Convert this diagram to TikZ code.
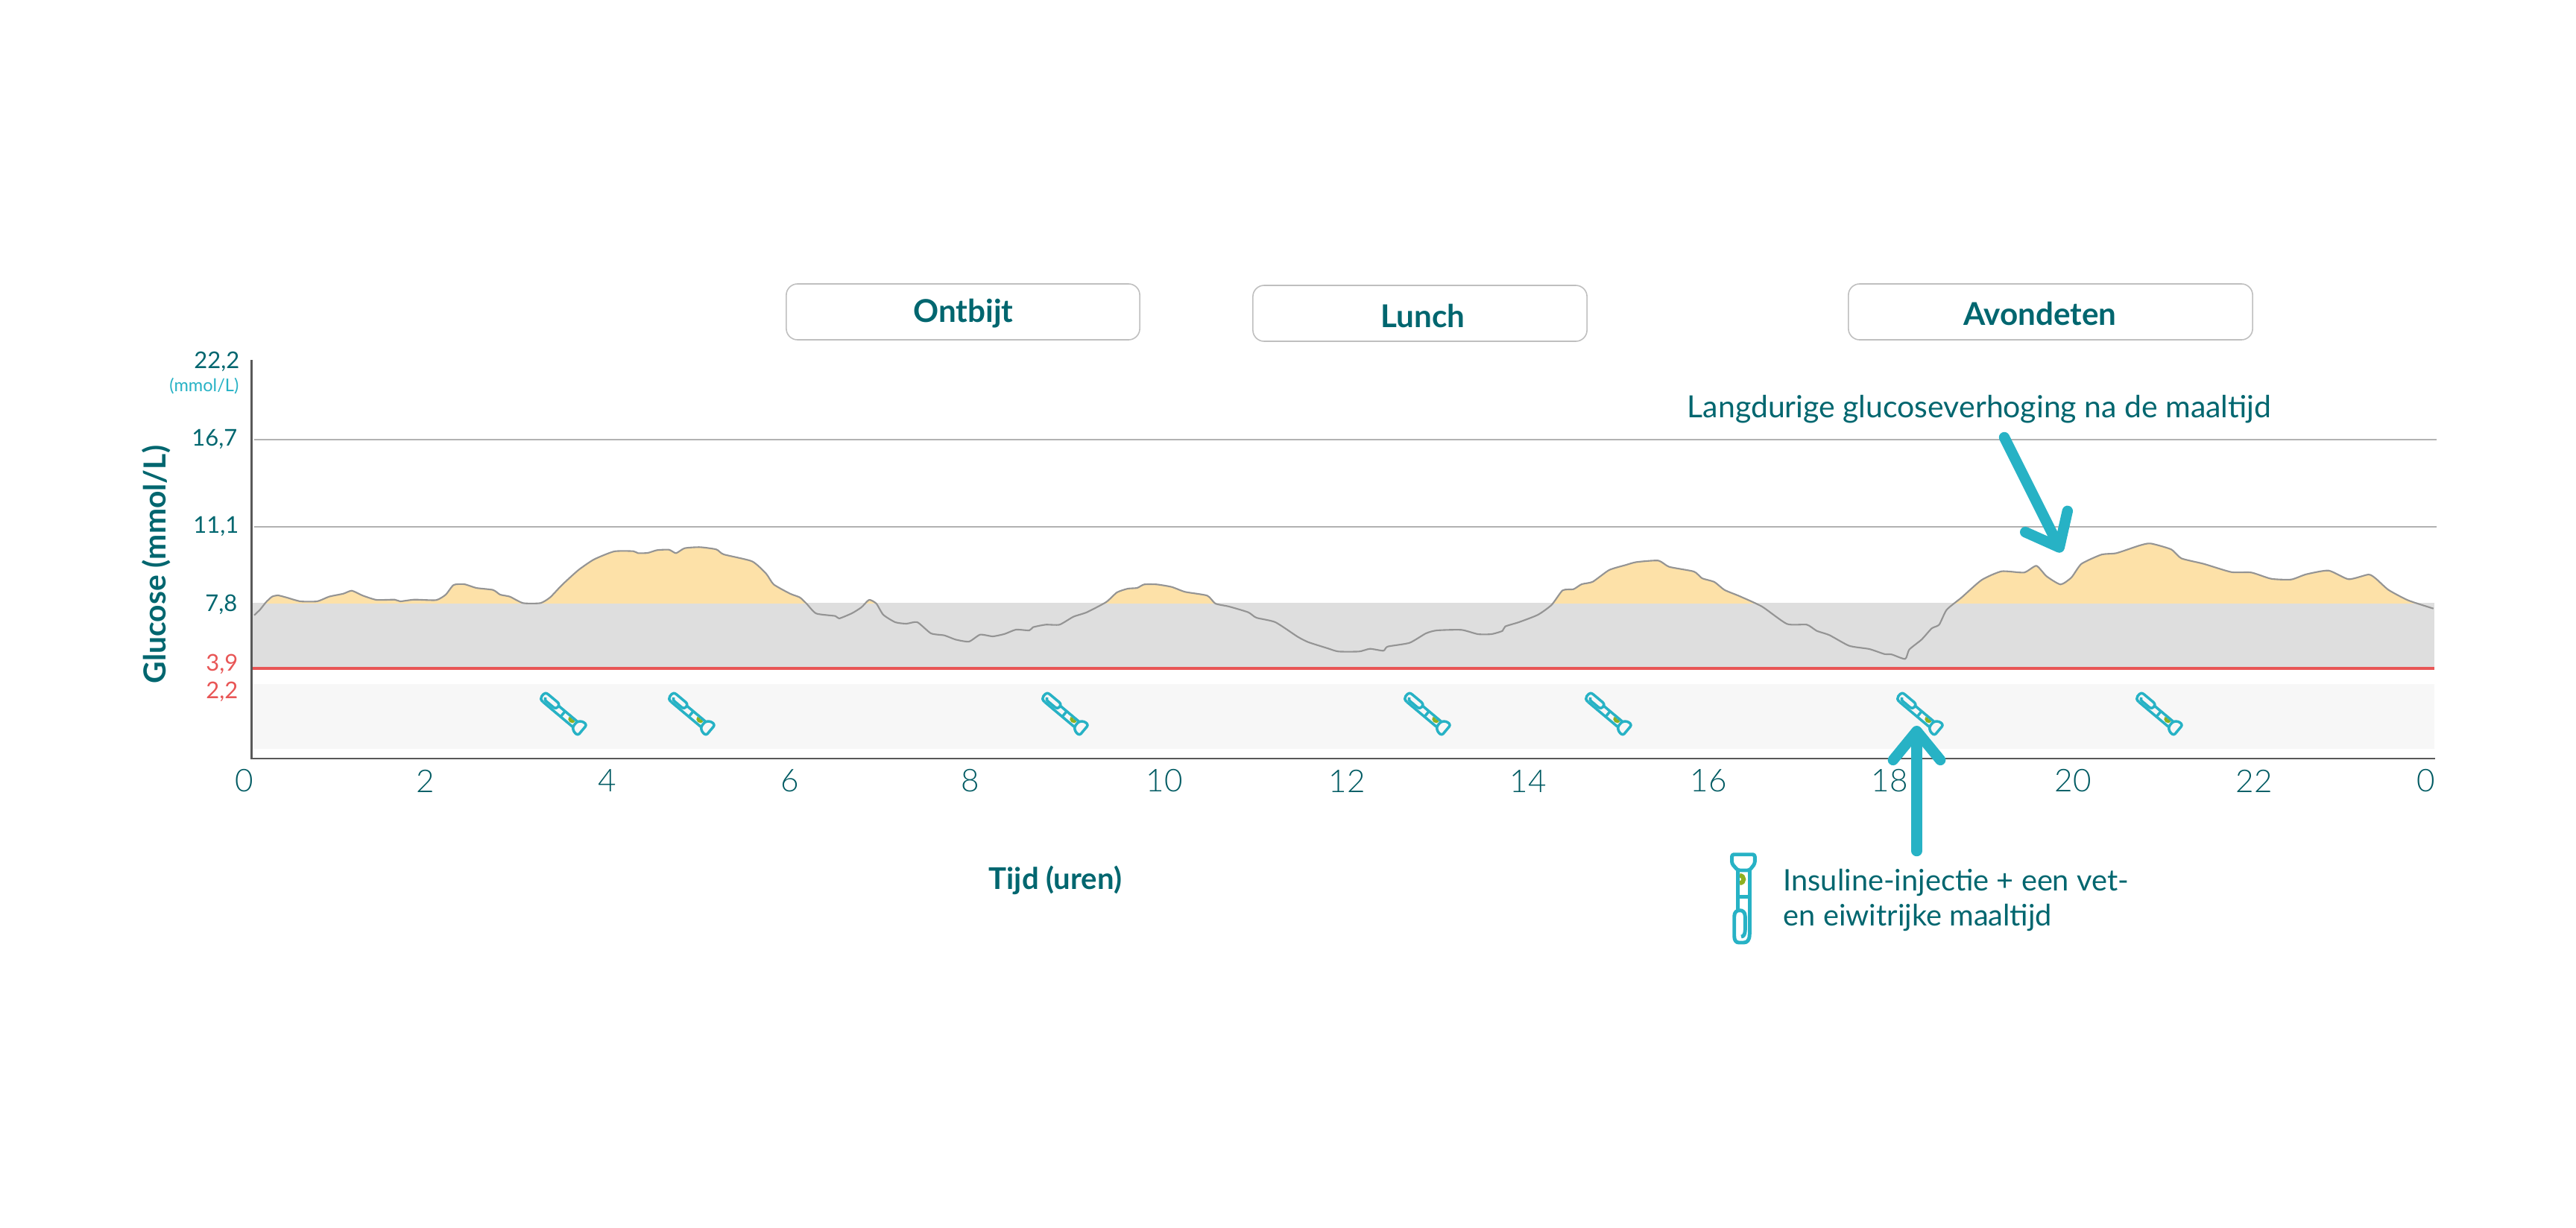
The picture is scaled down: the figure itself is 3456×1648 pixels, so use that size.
\documentclass[tikz,border=0pt]{standalone}
\usepackage{fontspec}
\usepackage{xcolor}
\usetikzlibrary{arrows.meta}
\setmainfont{Lato}
\newfontfamily\lightfont{Lato Light}

\definecolor{tealtext}{HTML}{00666F}
\definecolor{tealdark}{HTML}{005A62}
\definecolor{cyanline}{HTML}{27B2C5}
\definecolor{redline}{HTML}{E85656}
\definecolor{greendot}{HTML}{8DB021}
\definecolor{glucosefill}{HTML}{FDE1A8}
\definecolor{targetband}{HTML}{DEDEDE}
\definecolor{lowband}{HTML}{F7F7F7}

\tikzset{
    mealbox/.style={draw=black!25, line width=0.45pt, rounded corners=4.3pt, minimum height=0.75cm},
    mealtext/.style={text=tealtext, font=\fontsize{12pt}{14pt}\selectfont\bfseries},
    titletext/.style={text=tealtext, font=\fontsize{11.4pt}{14pt}\selectfont\bfseries},
    notetext/.style={text=tealtext, inner sep=0pt, font=\fontsize{11.3pt}{13.2pt}\selectfont, align=left},
    ylabel/.style={text=tealtext, anchor=east, inner sep=0pt, font=\fontsize{8.8pt}{11pt}\selectfont},
    xlabel/.style={text=tealdark, font=\lightfont\fontsize{12pt}{14pt}\selectfont},
    gridline/.style={draw=black!30, line width=0.6pt},
    bigarrow/.style={draw=cyanline, line width=4.1pt, line cap=round,
        ->, >={Straight Barb[round,length=11pt,width=18pt]}},
    pics/penicon/.style={code={
        \draw[greendot, line width=#1+0.3pt] (-5,-31) .. controls (2,-31) and (2,-21) .. (-5,-21);
        \draw[cyanline, line width=#1, line join=round, rounded corners=0.8pt]
            (-15.5,-59.3) -- (15.3,-59.3) -- (15.3,-47) -- (8.2,-38) -- (-7.6,-38) -- (-15.5,-47) -- cycle;
        \draw[cyanline, line width=#1] (-7.6,-38) -- (-7.6,16) (8.2,-38) -- (8.2,48);
        \draw[cyanline, line width=#1] (-7.6,-2.7) -- (8.2,-2.7);
        \draw[cyanline, line width=#1, line join=round]
            (8.2,48) .. controls (8.2,56) and (5,59) .. (0,59) -- (-6,59)
            .. controls (-10,59) and (-12.3,56) .. (-12.3,50) -- (-12.3,24)
            .. controls (-12.3,18) and (-9,15.7) .. (-5,15.7)
            .. controls (-1,15.7) and (2.3,18) .. (2.3,24) -- (2.3,42)
            .. controls (2.3,48) and (0,51) .. (-3,51);
    }}
}

\newcommand{\glucosecurve}{plot[smooth,tension=0.35] coordinates {
    (341,825.7) (349,818) (357,808) (365,800.7) (373,799) (384,801.7) (403,807) (425.5,807)
    (441.5,800.7) (460.6,796.7) (472,792.7) (486,799) (505,805) (529.5,804.7) (537,807)
    (556,804.7) (585,805.3) (598,798) (608.6,785) (623,784) (639,789) (661.5,791.7) (671,798)
    (684,800.7) (701.7,809.3) (725,809.3) (738,801.7) (754,785) (776,765) (797,750.7) (824,740)
    (849.6,739.7) (856,742.3) (869,742) (881.5,738.3) (897.5,737.7) (907,742.3) (918.5,735.7)
    (939,734.3) (961,737.3) (971,744) (1009,753.3) (1028,770) (1038,784.3) (1060,796.7)
    (1073,801.7) (1082,810) (1095,823.3) (1120.7,826.7) (1125.8,830) (1143,823) (1155.7,815)
    (1166,805) (1175.7,810) (1185,825) (1201,835) (1216,837) (1230.7,835) (1249,850) (1267,852.7)
    (1282,858.3) (1300,861) (1315,851.7) (1332,854) (1348,850.7) (1363,845) (1381,846) (1386,841.7)
    (1403,838.3) (1421.5,838.3) (1440,827.7) (1458,821.7) (1484,808) (1498.5,795) (1513,790)
    (1525.6,789) (1535,784.3) (1552,784.3) (1572,787.7) (1590,794.3) (1619.6,799.3) (1630.6,810)
    (1649,814) (1674.6,821.7) (1685.6,829) (1711,835) (1740.6,854.3) (1755,861.7) (1781,870)
    (1795.6,874.3) (1823.5,874.3) (1838,870.7) (1856,873.3) (1861.7,867.7) (1891,862.7) (1913,850)
    (1927.7,846) (1960.7,845.3) (1982.7,851) (2001,851) (2015.7,846.7) (2019.4,840.7) (2037.7,835)
    (2063.4,825) (2081.7,811.7) (2096.4,792.3) (2111,790.7) (2122,784) (2136.8,780.7) (2158.8,765)
    (2180.8,758.3) (2195.5,754.3) (2224.8,752.3) (2239.5,760.7) (2272.5,767) (2283.5,776)
    (2300,781) (2313.6,791.7) (2333.7,800) (2363.9,814) (2397.4,837.3) (2424,838.3) (2437.5,846.7)
    (2454.3,852.3) (2481,866.7) (2507.9,871) (2528,877.7) (2538,878.3) (2556,884.3) (2561.5,871.7)
    (2578,858.3) (2591.6,843.3) (2601.6,838.3) (2611.7,818.3) (2631.8,801.7) (2658.6,778.3)
    (2685.4,766.7) (2715.5,768.3) (2732,759.3) (2745.6,773.3) (2764.4,784.3) (2779,775)
    (2792.5,756.7) (2819.3,744.3) (2839.4,742.3) (2869.6,732.3) (2885,729.3) (2913,737.3)
    (2926.5,749.3) (2956.6,756.7) (2993.5,767.7) (3020.3,768.3) (3047,776.7) (3073.8,777.7)
    (3094,770.7) (3124,765.7) (3150.9,777.3) (3177.7,771) (3187.7,776.7) (3204.5,791.7)
    (3231,805.7) (3264.7,816.7)
}}

\begin{document}
\begin{tikzpicture}[x=0.01cm, y=-0.01cm]
    \useasboundingbox (0,0) rectangle (3456,1648);

    % Bands
    \fill[lowband] (339,918) rectangle (3266,1005);
    \fill[targetband] (339,809) rectangle (3266,896);

    % Grid lines
    \draw[gridline] (341,590) -- (3269,590);
    \draw[gridline] (341,707) -- (3269,707);

    % Glucose above the target band
    \begin{scope}
        \clip (339,650) rectangle (3266,809.5);
        \fill[glucosefill] \glucosecurve -- (3265,900) -- (341,900) -- cycle;
    \end{scope}

    % Glucose curve
    \draw[black!42, line width=0.6pt, line join=round] \glucosecurve;

    % Hypo line
    \draw[redline, line width=1pt] (338,897) -- (3266,897);

    % Axes
    \draw[black!65, line width=0.7pt] (337.5,483) -- (337.5,1018) -- (3267,1018);

    % Meal boxes
    \node[mealbox, minimum width=4.74cm] (ontbijtbox) at (1292,418.5) {};
    \node[mealbox, minimum width=4.48cm] (lunchbox) at (1905,420.5) {};
    \node[mealbox, minimum width=5.42cm] (avondetenbox) at (2751,418.5) {};
    \node[mealtext] (ontbijt) at (1292.5,421) {Ontbijt};
    \node[mealtext] (lunch) at (1909,424) {Lunch};
    \node[mealtext] (avondeten) at (2737,421) {Avondeten};

    % Y axis labels
    \node[ylabel] (y222) at (322,485) {22,2};
    \node[ylabel, text=cyanline, font=\fontsize{6.7pt}{8pt}\selectfont] (yunit) at (321,518) {(mmol/L)};
    \node[ylabel] (y167) at (319,589) {16,7};
    \node[ylabel] (y111) at (321,706) {11,1};
    \node[ylabel] (y78) at (319,811) {7,8};
    \node[ylabel, text=redline] (y39) at (320,891) {3,9};
    \node[ylabel, text=redline] (y22) at (320,928) {2,2};
    \node[titletext, rotate=90, font=\fontsize{11.6pt}{14pt}\selectfont\bfseries] (ytitle) at (210,757.5) {Glucose (mmol/L)};

    % X axis labels
    \node[xlabel] (x0) at (328,1048) {0};
    \node[xlabel] (x2) at (571,1048) {2};
    \node[xlabel] (x4) at (815,1048) {4};
    \node[xlabel] (x6) at (1060,1048) {6};
    \node[xlabel] (x8) at (1302,1048) {8};
    \node[xlabel] (x10) at (1562,1048) {10};
    \node[xlabel] (x12) at (1807,1048) {12};
    \node[xlabel] (x14) at (2050,1048) {14};
    \node[xlabel] (x16) at (2292,1048) {16};
    \node[xlabel] (x18) at (2535,1048) {18};
    \node[xlabel] (x20) at (2781,1048) {20};
    \node[xlabel] (x22) at (3024,1048) {22};
    \node[xlabel] (x24) at (3255,1048) {0};
    \node[titletext] (xtitle) at (1416,1181) {Tijd (uren)};

    % Injections
    \pic[rotate=-130, scale=0.6] (pen1) at (754,957) {penicon=1pt};
    \pic[rotate=-130, scale=0.6] (pen2) at (926,957) {penicon=1pt};
    \pic[rotate=-130, scale=0.6] (pen3) at (1427,957) {penicon=1pt};
    \pic[rotate=-130, scale=0.6] (pen4) at (1913,957) {penicon=1pt};
    \pic[rotate=-130, scale=0.6] (pen5) at (2156,957) {penicon=1pt};
    \pic[rotate=-130, scale=0.6] (pen6) at (2574,957) {penicon=1pt};
    \pic[rotate=-130, scale=0.6] (pen7) at (2895,957) {penicon=1pt};

    % Notes
    \node[notetext, anchor=west, font=\fontsize{11.65pt}{13.2pt}\selectfont] (langdurig) at (2263,549) {Langdurige glucoseverhoging na de maaltijd};
    \node[notetext, anchor=west] (insuline) at (2392,1208) {Insuline-injectie + een vet-\\en eiwitrijke maaltijd};
    \pic (legendpen) at (2339,1206) {penicon=1.4pt};

    % Arrows
    \coordinate (langstart) at (2689,587);
    \coordinate (langtip) at (2766,741);
    \coordinate (insulinestart) at (2571.5,1142);
    \coordinate (insulinetip) at (2571.5,974);
    \draw[bigarrow] (langstart) -- (langtip);
    \draw[bigarrow] (insulinestart) -- (insulinetip);
\end{tikzpicture}
\end{document}
